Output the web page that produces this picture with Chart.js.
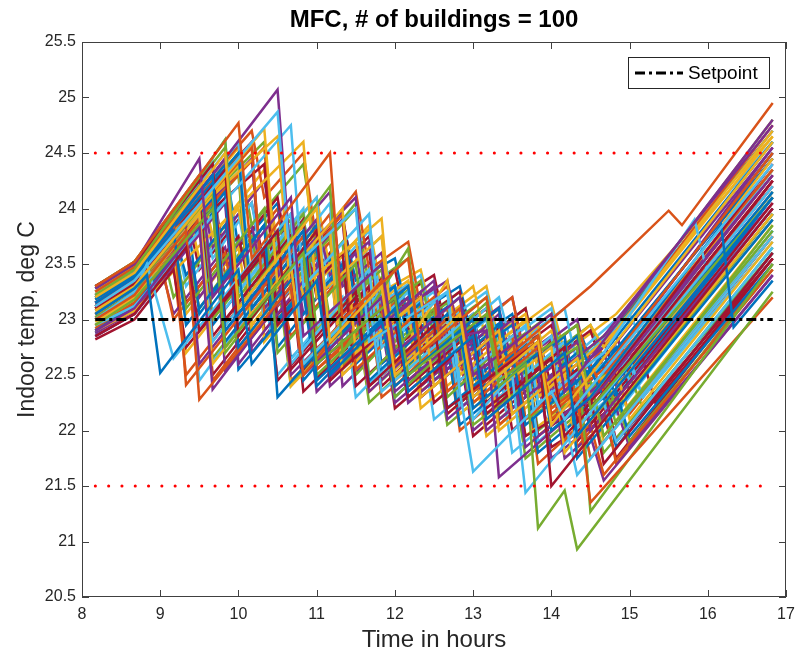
<!DOCTYPE html>
<html>
<head>
<meta charset="utf-8">
<script src="https://cdn.jsdelivr.net/npm/chart.js@4.4.1/dist/chart.umd.min.js"></script>
<style>
  body { margin: 0; background: #fff; }
  #wrap { width: 795px; height: 658px; }
</style>
</head>
<body>
<div id="wrap"><canvas id="mfc-chart" width="795" height="658"></canvas></div>
<script>
// indoor temperature of each building, [hour, deg C] at the corners of its trace
const buildingTemps = [
  [[8.17,23.05],[8.67,23.28],[8.83,23.4],[9.0,22.52],[10.0,23.45],[10.17,22.6],[11.0,23.35],[11.17,22.5],[12.0,23.1],[12.17,22.35],[13.0,22.85],[13.17,22.1],[14.17,22.7],[14.33,21.95],[16.83,24.1]],
  [[8.17,23.3],[8.67,23.52],[10.0,24.77],[10.17,23.55],[11.17,24.5],[11.33,23.0],[12.17,23.55],[12.33,22.7],[13.17,23.2],[13.33,22.6],[14.5,23.3],[15.5,23.98],[15.67,23.85],[16.83,24.95]],
  [[8.17,23.2],[8.67,23.42],[9.83,24.5],[10.0,23.1],[11.0,24.0],[11.17,22.8],[11.83,23.3],[12.0,22.5],[12.83,23.05],[13.0,22.3],[13.83,22.8],[14.0,22.05],[16.83,24.6]],
  [[8.17,23.28],[8.67,23.5],[9.5,24.45],[9.67,23.2],[10.67,24.1],[10.83,22.85],[11.83,23.5],[12.0,22.7],[12.83,23.2],[13.0,22.5],[14.0,23.05],[14.17,22.35],[16.83,24.8]],
  [[8.17,22.95],[8.67,23.18],[9.67,24.0],[9.83,22.75],[10.83,23.6],[11.0,22.6],[12.0,23.2],[12.17,22.5],[13.17,23.05],[13.33,22.4],[13.67,22.6],[13.83,21.12],[14.17,21.46],[14.33,20.93],[16.83,23.25]],
  [[8.17,23.12],[8.67,23.35],[10.5,24.87],[10.67,23.45],[11.5,24.0],[11.67,22.8],[12.67,23.25],[12.83,22.35],[13.0,21.63],[14.0,22.35],[14.17,22.1],[16.83,24.4]],
  [[8.17,22.85],[8.67,23.05],[9.33,23.65],[9.5,22.9],[10.5,23.8],[10.67,22.55],[11.5,23.2],[11.67,22.4],[12.5,22.95],[12.67,22.2],[13.83,22.8],[14.0,21.5],[16.83,24.0]],
  [[8.17,23.18],[8.67,23.4],[9.67,24.3],[9.83,22.9],[10.83,23.8],[11.0,22.45],[11.83,23.0],[12.0,22.4],[12.83,22.9],[13.0,22.2],[13.83,22.7],[14.0,22.0],[14.5,22.3],[16.17,23.85],[16.33,22.93],[16.83,23.35]],
  [[8.17,23.0],[8.67,23.22],[9.33,23.8],[9.5,22.28],[10.67,23.3],[10.83,22.5],[11.83,23.35],[12.0,22.6],[12.83,23.1],[13.0,22.35],[13.83,22.85],[14.0,22.1],[14.33,22.3],[14.5,21.35],[16.83,23.2]],
  [[8.17,23.08],[8.67,23.3],[10.33,24.72],[10.5,23.3],[11.33,24.0],[11.5,22.7],[12.33,23.2],[12.5,22.4],[13.33,22.9],[13.5,22.15],[14.33,22.65],[14.5,22.3],[16.83,24.45]],
  [[8.17,22.9],[8.67,23.1],[9.5,23.85],[9.67,22.37],[10.67,23.3],[10.83,22.5],[11.83,23.2],[12.0,22.35],[12.83,22.85],[13.17,22.9],[13.33,21.58],[14.67,22.4],[16.83,24.3]],
  [[8.17,23.22],[8.67,23.45],[9.83,24.62],[10.0,23.1],[11.17,24.2],[11.33,22.7],[12.17,23.64],[12.33,22.6],[13.17,23.15],[13.33,22.45],[14.33,22.95],[14.5,22.2],[16.83,24.1]],
  [[8.17,23.0],[8.67,23.25],[8.83,23.5],[9.17,22.65],[10.67,23.95],[10.83,22.6],[11.67,23.2],[11.83,22.35],[12.83,22.95],[13.0,22.1],[13.5,22.5],[13.67,21.44],[16.83,24.2]],
  [[8.17,23.1],[8.67,23.32],[9.83,24.35],[10.0,22.85],[11.0,23.8],[11.17,22.45],[12.0,23.0],[12.17,22.3],[13.0,22.85],[13.17,22.15],[14.0,22.65],[14.17,21.95],[14.5,22.2],[16.83,24.25]],
  [[8.17,23.15],[8.67,23.38],[9.17,23.8],[9.33,22.95],[10.33,23.85],[10.5,22.3],[11.5,23.1],[11.67,22.45],[12.5,23.0],[12.67,22.2],[13.5,22.7],[13.67,22.05],[14.5,22.55],[14.67,22.3],[16.83,24.15]],
  [[8.17,23.25],[8.67,23.47],[9.17,23.9],[9.33,22.41],[10.83,23.75],[11.0,22.55],[11.83,23.1],[12.0,22.4],[12.83,22.95],[13.0,22.25],[13.83,22.75],[14.0,22.2],[14.67,22.55],[16.83,24.5]],
  [[8.17,22.98],[8.67,23.2],[9.5,23.95],[9.67,22.6],[10.67,23.5],[10.83,22.6],[11.83,23.35],[12.0,22.45],[12.83,22.95],[13.0,22.2],[14.0,22.75],[14.17,21.8],[16.83,24.15]],
  [[8.17,23.15],[8.67,23.38],[10.5,25.07],[10.67,23.5],[11.5,24.1],[11.67,22.85],[12.5,23.35],[12.67,22.5],[13.5,23.0],[13.67,22.3],[14.67,22.85],[16.83,24.75]],
  [[8.17,23.05],[8.67,23.28],[9.67,24.15],[9.83,22.7],[10.83,23.6],[11.0,22.5],[11.83,23.05],[12.0,22.3],[12.83,22.85],[13.0,22.05],[14.0,22.6],[14.33,22.75],[14.5,21.27],[16.83,23.5]],
  [[8.17,22.95],[8.67,23.12],[10.67,24.75],[10.83,23.3],[11.67,23.95],[11.83,22.75],[12.67,23.25],[12.83,22.45],[13.67,22.95],[13.83,22.25],[14.67,22.7],[15.83,23.9],[16.0,23.4],[16.83,24.15]],
  [[8.17,23.3],[8.67,23.5],[9.67,24.4],[9.83,23.0],[10.83,23.9],[11.0,22.6],[12.0,23.2],[12.17,22.4],[13.0,22.9],[13.17,22.2],[14.17,22.75],[14.33,22.1],[16.83,24.4]],
  [[8.17,22.9],[8.67,23.12],[9.83,24.15],[10.0,22.75],[11.0,23.65],[11.17,22.7],[12.17,23.3],[12.33,22.55],[13.33,23.1],[13.5,22.35],[14.33,22.85],[14.5,22.55],[16.83,24.6]],
  [[8.17,23.12],[8.67,23.35],[10.17,24.55],[10.33,23.05],[11.33,23.95],[11.5,22.55],[12.5,23.2],[12.67,22.35],[13.5,22.85],[13.67,22.1],[14.5,22.6],[14.67,22.35],[16.83,24.2]],
  [[8.17,23.25],[8.67,23.47],[10.5,24.65],[10.67,23.2],[11.83,23.91],[12.0,22.6],[12.67,23.35],[12.83,22.5],[13.67,23.0],[13.83,22.3],[14.83,22.9],[16.83,24.7]],
  [[8.17,23.05],[8.67,23.28],[9.33,23.85],[9.5,22.6],[10.5,23.5],[10.67,22.5],[11.5,23.1],[11.67,22.35],[12.5,22.9],[12.67,22.1],[13.5,22.6],[13.67,21.85],[14.67,22.45],[16.83,24.3]],
  [[8.17,23.1],[8.67,23.32],[9.17,23.75],[9.33,23.1],[10.33,24.0],[10.5,22.7],[11.5,23.5],[11.67,22.5],[12.5,23.1],[12.67,22.3],[13.5,22.85],[13.67,22.1],[14.5,22.45],[14.67,21.95],[16.83,23.8]],
  [[8.17,23.0],[8.67,23.22],[9.5,23.95],[9.67,22.8],[10.5,23.55],[10.67,22.6],[11.67,23.45],[11.83,22.5],[12.67,23.0],[12.83,22.2],[13.67,22.7],[13.83,21.9],[14.17,22.1],[14.33,21.6],[16.83,23.75]],
  [[8.17,22.82],[8.67,23.0],[9.17,23.45],[9.33,22.75],[10.33,23.6],[10.5,22.45],[11.5,23.25],[11.67,22.4],[12.5,22.9],[12.67,22.15],[13.5,22.65],[13.67,21.95],[14.5,22.3],[14.67,21.7],[16.83,23.6]],
  [[8.17,23.2],[8.67,23.42],[10.0,24.5],[10.17,23.1],[11.0,23.85],[11.17,22.8],[12.0,23.3],[12.17,22.5],[13.0,23.0],[13.17,22.3],[14.17,22.85],[14.33,21.75],[16.83,23.9]],
  [[8.17,23.15],[8.67,23.38],[9.67,24.25],[9.83,22.95],[10.83,23.85],[11.0,22.7],[11.83,23.2],[12.0,22.5],[12.83,23.05],[13.0,22.3],[13.83,22.85],[14.0,22.15],[14.33,22.35],[14.5,21.75],[16.83,23.75]],
  [[8.17,23.05],[8.67,23.28],[10.0,24.4],[10.17,22.9],[11.17,23.8],[11.33,22.5],[12.17,23.1],[12.33,22.3],[13.17,22.8],[13.33,22.0],[14.17,22.5],[14.33,21.8],[16.83,23.95]],
  [[8.17,23.2],[8.67,23.42],[9.83,24.45],[10.0,23.05],[11.0,23.9],[11.17,22.55],[12.17,23.2],[12.33,22.4],[13.17,22.9],[13.33,22.2],[14.33,22.75],[14.5,22.0],[16.83,24.0]],
  [[8.17,23.3],[8.67,23.52],[9.83,24.55],[10.0,23.2],[10.83,23.95],[11.0,22.9],[11.83,23.45],[12.0,22.6],[12.83,23.1],[13.0,22.35],[13.83,22.85],[14.0,22.15],[14.67,22.45],[14.83,22.05],[16.83,23.85]],
  [[8.17,23.15],[8.67,23.38],[10.0,24.6],[10.17,23.15],[11.17,24.05],[11.33,22.65],[12.17,23.25],[12.33,22.5],[13.17,23.0],[13.33,22.3],[14.17,22.8],[14.33,22.05],[14.67,22.25],[14.83,21.9],[16.83,23.65]],
  [[8.17,23.1],[8.67,23.32],[9.5,24.1],[9.67,22.85],[10.67,23.75],[10.83,22.55],[11.67,23.3],[11.83,22.4],[12.67,22.95],[12.83,22.2],[13.67,22.7],[13.83,21.95],[14.67,22.4],[14.83,21.9],[16.83,23.55]],
  [[8.17,23.0],[8.67,23.22],[9.67,24.1],[9.83,22.8],[10.67,23.55],[10.83,22.45],[11.67,23.15],[11.83,22.5],[12.67,23.05],[12.83,22.3],[13.83,22.85],[14.0,22.05],[14.83,22.35],[15.0,21.95],[16.83,23.5]],
  [[8.17,22.92],[8.67,23.15],[9.5,23.9],[9.67,22.45],[10.83,23.5],[11.0,22.55],[12.0,23.15],[12.17,22.4],[13.0,22.9],[13.17,22.15],[14.0,22.65],[14.17,21.9],[14.5,22.05],[14.67,21.6],[16.83,23.45]],
  [[8.17,22.9],[8.67,23.08],[10.83,24.6],[11.0,23.2],[11.83,23.75],[12.0,22.55],[12.83,23.1],[13.0,22.4],[13.83,22.95],[14.0,22.2],[14.83,22.55],[15.0,22.1],[16.83,23.7]],
  [[8.17,22.85],[8.67,23.05],[9.83,24.05],[10.0,22.6],[11.0,23.5],[11.17,22.4],[12.0,22.95],[12.17,22.25],[13.0,22.75],[13.17,22.0],[14.0,22.5],[14.17,21.75],[14.5,21.95],[14.67,21.55],[16.83,23.4]],
  [[8.17,23.25],[8.67,23.48],[9.5,24.2],[9.67,23.0],[10.67,23.9],[10.83,22.6],[11.67,23.2],[11.83,22.45],[12.67,23.0],[12.83,22.25],[13.67,22.75],[13.83,22.0],[14.67,22.5],[14.83,22.2],[16.83,23.95]],
  [[8.17,23.22],[8.67,23.45],[9.83,24.62],[10.0,23.25],[11.0,24.1],[11.17,22.75],[12.0,23.3],[12.17,22.55],[13.0,23.05],[13.17,22.35],[14.0,22.85],[14.17,22.15],[15.0,22.65],[15.17,22.3],[16.83,23.7]],
  [[8.17,23.15],[8.67,23.38],[10.33,24.4],[10.5,22.95],[11.33,23.6],[11.5,22.4],[12.33,22.95],[12.5,22.25],[13.33,22.75],[13.5,22.0],[14.33,22.55],[14.5,22.0],[16.83,24.05]],
  [[8.17,23.28],[8.67,23.5],[9.33,24.05],[9.5,23.05],[10.33,23.85],[10.5,22.75],[11.33,23.5],[11.5,22.6],[12.33,23.15],[12.5,22.45],[13.33,22.95],[13.5,22.2],[14.33,22.7],[14.5,22.45],[16.83,24.45]],
  [[8.17,23.08],[8.67,23.3],[10.33,24.55],[10.5,23.35],[11.17,23.95],[11.33,22.85],[12.0,23.3],[12.17,22.5],[13.0,23.0],[13.17,22.3],[14.17,22.85],[14.33,22.2],[16.83,24.35]],
  [[8.17,22.95],[8.67,23.18],[9.17,23.6],[9.33,22.7],[10.5,23.75],[10.67,22.4],[11.5,23.0],[11.67,22.35],[12.5,22.9],[12.67,22.15],[13.5,22.65],[13.67,21.95],[14.5,22.4],[14.67,21.95],[16.83,23.85]],
  [[8.17,23.12],[8.67,23.35],[10.17,24.45],[10.33,23.1],[11.33,23.9],[11.5,22.65],[12.33,23.25],[12.5,22.5],[13.33,23.05],[13.5,22.3],[14.33,22.8],[14.5,22.35],[16.83,24.55]],
  [[8.17,23.02],[8.67,23.25],[10.0,24.3],[10.17,22.85],[11.17,23.75],[11.33,22.6],[12.17,23.2],[12.33,22.45],[13.17,22.95],[13.33,22.25],[14.17,22.8],[14.33,22.05],[14.83,22.3],[15.0,21.9],[16.83,23.45]],
  [[8.17,23.25],[8.67,23.48],[9.67,24.42],[9.83,23.1],[10.83,24.0],[11.0,22.65],[11.83,23.25],[12.0,22.5],[12.83,23.05],[13.0,22.35],[13.83,22.9],[14.0,22.2],[14.83,22.7],[15.0,22.45],[16.83,24.0]],
  [[8.17,23.05],[8.67,23.28],[10.0,24.45],[10.17,23.1],[11.0,23.85],[11.17,22.65],[12.0,23.2],[12.17,22.45],[13.0,22.95],[13.17,22.25],[14.0,22.8],[14.17,22.1],[15.17,22.65],[15.33,22.25],[16.83,23.55]],
  [[8.17,23.12],[8.67,23.35],[9.17,23.8],[9.33,23.4],[9.83,23.85],[10.0,23.3],[10.67,23.95],[10.83,23.5],[11.33,23.9],[11.5,23.1],[12.0,23.3],[12.17,22.85],[12.83,23.2],[13.0,22.7],[13.5,22.95],[13.67,22.5],[14.17,22.8],[14.33,22.4],[14.83,22.7],[16.83,24.5]],
  [[8.17,23.0],[8.67,23.2],[9.0,23.55],[9.17,23.0],[9.83,23.6],[10.0,22.9],[10.5,23.35],[10.67,22.85],[11.33,23.4],[11.5,22.95],[12.17,23.3],[12.33,22.6],[12.83,22.9],[13.0,22.5],[13.67,22.85],[13.83,22.35],[14.33,22.6],[14.5,22.25],[16.83,24.3]],
  [[8.17,23.22],[8.67,23.45],[9.33,24.05],[9.5,23.55],[10.0,24.0],[10.17,23.4],[10.67,23.85],[10.83,23.2],[11.5,23.7],[11.67,23.1],[12.17,23.35],[12.33,22.9],[13.0,23.3],[13.17,22.8],[13.67,23.05],[13.83,22.55],[14.5,22.95],[14.67,22.75],[16.83,24.65]],
  [[8.17,22.88],[8.67,23.08],[9.33,23.7],[9.5,23.2],[10.17,23.85],[10.33,23.3],[11.0,23.9],[11.17,23.4],[11.67,23.7],[11.83,22.9],[12.5,23.3],[12.67,22.75],[13.33,23.1],[13.5,22.6],[14.0,22.85],[14.17,22.45],[14.83,22.85],[15.0,22.6],[16.83,24.2]],
  [[8.17,23.18],[8.67,23.4],[9.0,23.7],[9.17,23.2],[9.83,23.85],[10.0,23.35],[10.67,23.95],[10.83,23.45],[11.5,24.05],[11.67,23.0],[12.33,23.35],[12.5,22.85],[13.17,23.2],[13.33,22.7],[14.0,23.05],[14.17,22.55],[14.83,22.95],[16.83,24.8]],
  [[8.17,23.08],[8.67,23.3],[9.5,24.0],[9.67,23.55],[10.17,24.05],[10.33,23.4],[11.0,24.0],[11.17,23.3],[11.83,23.75],[12.0,23.0],[12.5,23.25],[12.67,22.8],[13.33,23.2],[13.5,22.75],[14.17,23.1],[14.33,22.6],[15.0,23.05],[15.17,22.8],[16.83,24.35]],
  [[8.17,23.02],[8.67,23.25],[9.17,23.65],[9.33,23.15],[10.0,23.75],[10.17,23.2],[10.83,23.8],[11.0,23.2],[11.67,23.6],[11.83,22.95],[12.33,23.2],[12.5,22.7],[13.17,23.1],[13.33,22.6],[13.83,22.85],[14.0,22.4],[14.67,22.8],[14.83,22.5],[16.83,24.25]],
  [[8.17,22.85],[8.67,23.05],[9.5,23.8],[9.67,23.25],[10.33,23.85],[10.5,23.0],[11.17,23.55],[11.33,22.8],[12.0,23.2],[12.17,22.6],[12.83,23.0],[13.0,22.45],[13.67,22.85],[13.83,22.2],[14.67,22.6],[14.83,22.3],[16.83,24.1]],
  [[8.17,23.28],[8.67,23.5],[10.17,24.7],[10.33,24.1],[10.83,24.5],[11.0,23.7],[11.5,24.15],[11.67,23.45],[12.17,23.7],[12.33,23.1],[12.67,23.3],[12.83,22.8],[13.5,23.2],[13.67,22.6],[14.33,22.95],[14.5,22.6],[16.83,24.75]],
  [[8.17,23.0],[8.67,23.22],[9.17,23.65],[9.33,23.05],[10.0,23.65],[10.17,22.9],[10.83,23.5],[11.0,22.9],[11.67,23.45],[11.83,22.8],[12.5,23.2],[12.67,22.65],[13.17,22.95],[13.33,22.5],[14.0,22.9],[14.17,22.3],[14.67,22.55],[14.83,22.2],[16.83,23.9]],
  [[8.17,23.22],[8.67,23.45],[9.5,24.2],[9.67,23.65],[10.33,24.25],[10.5,23.6],[11.17,24.15],[11.33,23.3],[11.83,23.6],[12.0,23.05],[12.67,23.35],[12.83,22.85],[13.5,23.2],[13.67,22.65],[14.33,23.0],[14.5,22.5],[16.83,24.55]],
  [[8.17,22.92],[8.67,23.12],[9.33,23.7],[9.5,23.1],[10.17,23.75],[10.33,23.15],[11.0,23.7],[11.17,23.0],[11.83,23.5],[12.0,22.8],[12.67,23.15],[12.83,22.6],[13.5,23.0],[13.67,22.45],[14.33,22.85],[14.5,22.3],[15.0,22.5],[15.17,22.2],[16.83,23.65]],
  [[8.17,23.15],[8.67,23.38],[9.17,23.85],[9.33,23.3],[10.0,23.95],[10.17,23.35],[10.83,23.9],[11.0,23.25],[11.67,23.8],[11.83,23.15],[12.33,23.4],[12.5,22.9],[13.17,23.25],[13.33,22.75],[14.0,23.1],[14.17,22.6],[14.83,23.0],[16.83,24.6]],
  [[8.17,23.1],[8.67,23.32],[9.67,24.2],[9.83,23.5],[10.5,24.1],[10.67,23.4],[11.33,23.95],[11.5,23.2],[12.0,23.45],[12.17,22.9],[12.83,23.25],[13.0,22.75],[13.67,23.1],[13.83,22.55],[14.5,22.9],[14.67,22.55],[16.83,24.5]],
  [[8.17,23.2],[8.67,23.42],[9.83,24.4],[10.0,23.65],[10.5,24.05],[10.67,23.35],[11.33,23.9],[11.5,23.35],[12.0,23.55],[12.17,23.0],[12.83,23.3],[13.0,22.8],[13.5,23.05],[13.67,22.6],[14.33,22.95],[14.5,22.65],[16.83,24.7]],
  [[8.17,22.95],[8.67,23.15],[9.67,24.0],[9.83,23.4],[10.5,24.0],[10.67,23.3],[11.17,23.7],[11.33,23.05],[11.83,23.35],[12.0,22.75],[12.67,23.1],[12.83,22.55],[13.33,22.85],[13.5,22.35],[14.17,22.75],[14.33,22.25],[14.83,22.5],[15.0,22.15],[16.83,23.75]],
  [[8.17,23.3],[8.67,23.52],[9.5,24.3],[9.67,23.75],[10.33,24.35],[10.5,23.7],[11.0,24.1],[11.17,23.45],[11.67,23.85],[11.83,23.25],[12.33,23.45],[12.5,22.95],[13.17,23.3],[13.33,22.8],[14.0,23.15],[14.17,22.7],[14.83,23.05],[16.83,24.65]],
  [[8.17,23.0],[8.67,23.22],[9.0,23.5],[9.17,23.05],[9.83,23.65],[10.0,23.1],[10.67,23.7],[10.83,23.05],[11.5,23.6],[11.67,22.95],[12.17,23.2],[12.33,22.7],[13.0,23.05],[13.17,22.5],[13.83,22.85],[14.0,22.35],[14.67,22.7],[14.83,22.4],[16.83,24.05]],
  [[8.17,23.12],[8.67,23.35],[10.0,24.5],[10.17,23.85],[10.83,24.4],[11.0,23.6],[11.5,24.0],[11.67,23.3],[12.17,23.55],[12.33,23.0],[12.83,23.25],[13.0,22.75],[13.67,23.1],[13.83,22.6],[14.5,22.95],[14.67,22.65],[16.83,24.6]],
  [[8.17,22.9],[8.67,23.1],[9.33,23.65],[9.5,23.1],[10.17,23.7],[10.33,23.0],[11.0,23.55],[11.17,22.95],[11.83,23.5],[12.0,22.85],[12.5,23.05],[12.67,22.5],[13.33,22.9],[13.5,22.35],[14.17,22.75],[14.33,22.25],[15.0,22.6],[15.17,22.3],[16.83,23.8]],
  [[8.17,23.25],[8.67,23.47],[9.33,24.0],[9.5,23.45],[10.17,24.05],[10.33,23.5],[10.83,23.9],[11.0,23.25],[11.67,23.75],[11.83,23.1],[12.5,23.4],[12.67,22.85],[13.17,23.1],[13.33,22.6],[14.0,22.95],[14.17,22.45],[14.83,22.85],[15.0,22.55],[16.83,24.25]],
  [[8.17,22.88],[8.67,23.1],[9.83,24.1],[10.0,22.55],[10.83,23.25],[11.0,22.4],[11.83,23.0],[12.0,22.3],[12.67,22.75],[12.83,22.05],[13.67,22.55],[13.83,21.8],[14.67,22.3],[14.83,21.85],[16.83,23.6]],
  [[8.17,23.18],[8.67,23.4],[9.83,24.4],[10.0,22.7],[11.0,23.55],[11.17,22.45],[12.17,23.2],[12.33,22.35],[13.17,22.85],[13.33,22.05],[14.17,22.55],[14.33,21.85],[16.83,24.0]],
  [[8.17,23.1],[8.67,23.32],[10.17,24.55],[10.33,22.8],[11.17,23.5],[11.33,22.55],[12.17,23.1],[12.33,22.2],[13.0,22.6],[13.17,21.95],[14.0,22.45],[14.17,22.0],[16.83,24.35]],
  [[8.17,23.0],[8.67,23.22],[9.67,24.05],[9.83,22.55],[10.83,23.4],[11.0,22.35],[11.83,22.95],[12.0,22.25],[12.83,22.75],[13.0,22.0],[13.83,22.5],[14.0,21.75],[14.83,22.2],[15.0,21.85],[16.83,23.4]],
  [[8.17,23.2],[8.67,23.42],[10.33,24.6],[10.5,23.0],[11.33,23.7],[11.5,22.5],[12.17,23.0],[12.33,22.35],[13.17,22.85],[13.33,22.1],[14.17,22.6],[14.33,22.15],[16.83,24.35]],
  [[8.17,22.98],[8.67,23.2],[9.33,23.75],[9.5,22.45],[10.33,23.25],[10.5,22.5],[11.33,23.2],[11.5,22.3],[12.33,22.9],[12.5,22.1],[13.33,22.6],[13.5,21.8],[14.33,22.3],[14.5,21.75],[16.83,23.8]],
  [[8.17,23.22],[8.67,23.45],[10.17,24.6],[10.33,22.9],[11.17,23.6],[11.33,22.6],[12.17,23.15],[12.33,22.3],[13.17,22.8],[13.33,22.05],[14.17,22.55],[14.33,21.9],[16.83,24.1]],
  [[8.17,23.3],[8.67,23.52],[9.5,24.3],[9.67,22.95],[10.5,23.7],[10.67,22.65],[11.67,23.4],[11.83,22.6],[12.67,23.1],[12.83,22.4],[13.83,22.95],[14.0,22.25],[14.83,22.75],[15.0,22.35],[16.83,23.95]],
  [[8.17,22.88],[8.67,23.08],[9.17,23.5],[9.33,22.5],[10.5,23.55],[10.67,22.45],[11.67,23.15],[11.83,22.3],[12.67,22.8],[12.83,22.0],[13.67,22.5],[13.83,21.7],[14.67,22.25],[14.83,21.7],[16.83,23.5]],
  [[8.17,23.15],[8.67,23.38],[10.0,24.55],[10.17,22.95],[11.0,23.7],[11.17,22.6],[11.83,23.15],[12.0,22.45],[12.67,22.85],[12.83,22.15],[13.67,22.65],[13.83,21.95],[14.5,22.35],[14.67,21.9],[16.83,23.75]],
  [[8.17,23.12],[8.67,23.35],[10.0,24.45],[10.17,22.7],[11.17,23.6],[11.33,22.4],[12.17,23.0],[12.33,22.3],[13.17,22.8],[13.33,22.1],[14.17,22.6],[14.33,22.3],[16.83,24.45]],
  [[8.17,22.9],[8.67,23.1],[9.5,23.85],[9.67,22.65],[10.5,23.4],[10.67,22.4],[11.5,23.1],[11.67,22.25],[12.5,22.8],[12.67,22.05],[13.5,22.55],[13.67,21.75],[14.5,22.25],[14.67,21.8],[16.83,23.6]],
  [[8.17,23.28],[8.67,23.5],[9.83,24.5],[10.0,23.0],[10.83,23.75],[11.0,22.7],[11.83,23.3],[12.0,22.55],[12.83,23.05],[13.0,22.3],[13.83,22.8],[14.0,22.1],[14.67,22.5],[14.83,22.15],[16.83,23.95]],
  [[8.17,22.95],[8.67,23.15],[9.5,23.9],[9.67,22.5],[10.67,23.4],[10.83,22.35],[11.83,23.05],[12.0,22.2],[12.83,22.7],[13.0,21.95],[13.83,22.45],[14.0,21.85],[14.67,22.15],[14.83,21.75],[16.83,23.55]]
];
const lineColors = ['#0072BD', '#D95319', '#EDB120', '#7E2F8E', '#77AC30', '#4DBEEE', '#A2142F'];
const simHours = [8.17, 16.83];
const setpointTemp = 23;
const comfortLimits = [24.5, 21.5];
const tempRange = [20.5, 25.5];
const hourRange = [8, 17];

const setpointDash = [10, 4, 3, 4];
const labelFont = '"Liberation Sans", Arial, sans-serif';

const datasets = [];
datasets.push({
  label: 'Setpoint',
  data: simHours.map(h => [h, setpointTemp]),
  borderColor: '#000',
  borderWidth: 3,
  borderDash: setpointDash,
  order: 0
});
comfortLimits.forEach(v => {
  datasets.push({
    label: 'limit',
    data: simHours.map(h => [h, v]),
    borderColor: '#ff0000',
    borderWidth: 3,
    borderDash: [0.1, 13.2],
    borderCapStyle: 'round',
    order: 0
  });
});
buildingTemps.forEach((b, i) => {
  datasets.push({
    label: 'building ' + (i + 1),
    data: b,
    borderColor: lineColors[i % lineColors.length],
    borderWidth: 2.5,
    order: 1
  });
});

// MATLAB style box with inward ticks, plus the legend box
const axesBox = {
  id: 'axesBox',
  afterDatasetsDraw(chart) {
    const {ctx, chartArea: a, scales: {x, y}} = chart;
    ctx.save();
    ctx.strokeStyle = '#404040';
    ctx.lineWidth = 1;
    ctx.strokeRect(a.left + 0.5, a.top + 0.5, a.right - a.left - 1, a.bottom - a.top - 1);
    ctx.beginPath();
    x.ticks.forEach(t => {
      const px = Math.round(x.getPixelForValue(t.value)) + 0.5;
      ctx.moveTo(px, a.bottom); ctx.lineTo(px, a.bottom - 7);
      ctx.moveTo(px, a.top); ctx.lineTo(px, a.top + 7);
    });
    y.ticks.forEach(t => {
      const py = Math.round(y.getPixelForValue(t.value)) + 0.5;
      ctx.moveTo(a.left, py); ctx.lineTo(a.left + 7, py);
      ctx.moveTo(a.right, py); ctx.lineTo(a.right - 7, py);
    });
    ctx.stroke();

    // legend
    const lx = a.right - 158, ly = a.top + 15, lw = 141, lh = 31;
    ctx.fillStyle = '#fff';
    ctx.fillRect(lx, ly, lw, lh);
    ctx.strokeStyle = '#262626';
    ctx.strokeRect(lx + 0.5, ly + 0.5, lw, lh);
    ctx.strokeStyle = '#000';
    ctx.lineWidth = 3;
    ctx.setLineDash(setpointDash);
    ctx.beginPath();
    ctx.moveTo(lx + 7, ly + 16);
    ctx.lineTo(lx + 55, ly + 16);
    ctx.stroke();
    ctx.setLineDash([]);
    ctx.fillStyle = '#000';
    ctx.font = '19px ' + labelFont;
    ctx.textBaseline = 'middle';
    ctx.fillText('Setpoint', lx + 60, ly + 16.5);
    ctx.restore();
  }
};

new Chart(document.getElementById('mfc-chart'), {
  type: 'line',
  data: { datasets: datasets },
  options: {
    responsive: false,
    animation: false,
    events: [],
    layout: { padding: { left: 0, right: 9, top: 0, bottom: 0 } },
    elements: {
      point: { radius: 0 },
      line: { tension: 0, fill: false }
    },
    plugins: {
      legend: { display: false },
      tooltip: { enabled: false },
      title: {
        display: true,
        text: 'MFC, # of buildings = 100',
        fullSize: false,
        color: '#000',
        font: { family: labelFont, size: 24, weight: 'bold' },
        padding: { top: 5.6, bottom: 7.6 }
      }
    },
    scales: {
      x: {
        type: 'linear',
        min: hourRange[0],
        max: hourRange[1],
        grid: { display: false, drawTicks: false },
        border: { display: false },
        ticks: {
          stepSize: 1,
          padding: 8,
          color: '#262626',
          font: { family: labelFont, size: 16 }
        },
        title: {
          display: true,
          text: 'Time in hours',
          color: '#262626',
          font: { family: labelFont, size: 24 },
          padding: { top: 0, bottom: 3 }
        },
        afterFit(scale) {
          scale.height = 61;
          scale.paddingLeft = 0;
          scale.paddingRight = 0;
        }
      },
      y: {
        min: tempRange[0],
        max: tempRange[1],
        grid: { display: false, drawTicks: false },
        border: { display: false },
        ticks: {
          stepSize: 0.5,
          padding: 6,
          color: '#262626',
          font: { family: labelFont, size: 16 },
          callback: v => String(v)
        },
        title: {
          display: true,
          text: 'Indoor temp, deg C',
          color: '#262626',
          font: { family: labelFont, size: 23 },
          padding: { top: 14, bottom: 0 }
        },
        afterFit(scale) { scale.width = 82; }
      }
    }
  },
  plugins: [axesBox]
});
</script>
</body>
</html>
